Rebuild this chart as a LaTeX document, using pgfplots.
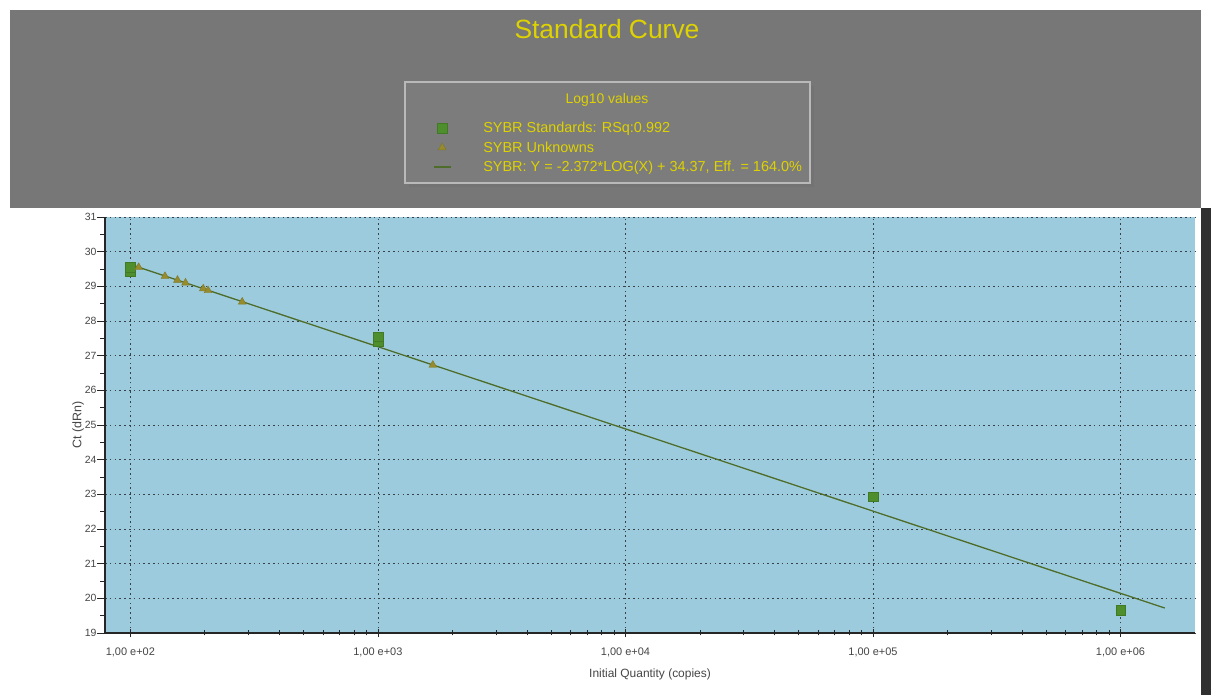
\documentclass[border=0pt]{standalone}
\usepackage{fontspec}
\setmainfont{Liberation Sans}
\usepackage{pgfplots}
\pgfplotsset{compat=1.18}

\definecolor{bandgrey}{RGB}{119,119,119}
\definecolor{boxgrey}{RGB}{124,124,124}
\definecolor{boxedge}{RGB}{185,185,185}
\definecolor{strip}{RGB}{48,48,48}
\definecolor{titleyel}{RGB}{222,210,0}
\definecolor{plotbg}{RGB}{156,203,221}
\definecolor{gridc}{RGB}{55,65,70}
\definecolor{fitline}{RGB}{78,108,42}
\definecolor{stdc}{RGB}{78,142,44}
\definecolor{unkc}{RGB}{150,140,45}
\definecolor{tickc}{RGB}{70,70,70}

% standards (squares) and unknowns (triangles): copies, Ct
\pgfplotstableread{
x       y
100     29.42
100     29.55
1000    27.40
1000    27.55
100000  22.93
1000000 19.66
}\standards
\pgfplotstableread{
x     y
108   29.55
138   29.29
155   29.18
167   29.10
197   28.93
206   28.88
283   28.55
1667  26.73
}\unknowns

\begin{document}
\begin{tikzpicture}[x=1bp,y=1bp]
\useasboundingbox (0,0) rectangle (1211,695);
\fill[white] (0,0) rectangle (1211,695);
% header band and right edge strip
\fill[bandgrey] (10,487) rectangle (1201,685);
\fill[strip] (1201,0) rectangle (1211,487);
\node[text=titleyel, font=\fontsize{26.5}{30}\selectfont] at (607,666) {Standard Curve};
% legend frame
\fill[black!55] (409,508) rectangle (814,609);
\fill[boxgrey] (405,512) rectangle (810,613);
\draw[boxedge, line width=1.2bp] (405,512) rectangle (810,613);
\node[text=titleyel, font=\fontsize{14}{16}\selectfont] at (607,595) {Log10 values};

\begin{axis}[
  at={(105bp,62bp)}, anchor=south west,
  scale only axis, width=1090bp, height=416bp,
  xmode=log, xmin=79, xmax=2.0e6,
  ymin=19, ymax=31,
  axis x line*=bottom, axis y line*=left,
  axis line style={black!85, line width=1.2bp},
  axis background/.style={fill=plotbg},
  xtick={100,1000,10000,100000,1000000},
  xticklabels={{1,00 e+02},{1,00 e+03},{1,00 e+04},{1,00 e+05},{1,00 e+06}},
  ytick={19,20,...,31},
  minor y tick num=1,
  x tick style={black!85, line width=0.8bp},
  y tick style={black!85, line width=0.8bp},
  xtick align=center, ytick align=outside,
  major tick length=8bp, minor tick length=5bp,
  tick label style={text=tickc},
  xticklabel style={font=\fontsize{11}{12}\selectfont, yshift=-7bp},
  yticklabel style={font=\fontsize{10.5}{12}\selectfont, xshift=3bp},
  /pgf/number format/assume math mode=true,
  xmajorgrids, ymajorgrids,
  major grid style={gridc, dash pattern=on 1.6bp off 3.2bp, line width=0.8bp},
  xlabel={Initial Quantity (copies)},
  ylabel={Ct (dRn)},
  label style={text=tickc},
  xlabel style={font=\fontsize{12}{14}\selectfont, yshift=-5bp},
  ylabel style={font=\fontsize{12.5}{14}\selectfont, yshift=-6bp},
  legend style={at={(0.298,1.238)}, anchor=north west, draw=none, fill=none,
    font=\fontsize{14.5}{17}\selectfont, nodes={text=titleyel},
    row sep=3.5bp, column sep=30bp},
  legend cell align=left,
]
\addplot[only marks, mark=square*, mark size=4.8bp, draw=stdc!85!black, fill=stdc] table {\standards};
\addlegendentry{SYBR Standards: RSq:0.992}
\addplot[only marks, mark=triangle*, mark size=4.5bp, draw=unkc!85!black, fill=unkc] table {\unknowns};
\addlegendentry{SYBR Unknowns}
\addplot[fitline, line width=1.3bp] coordinates {(100,29.63) (1510000,19.72)};
\addlegendentry{SYBR: Y = -2.372*LOG(X) + 34.37, Eff. = 164.0\%}
\end{axis}
\end{tikzpicture}
\end{document}
